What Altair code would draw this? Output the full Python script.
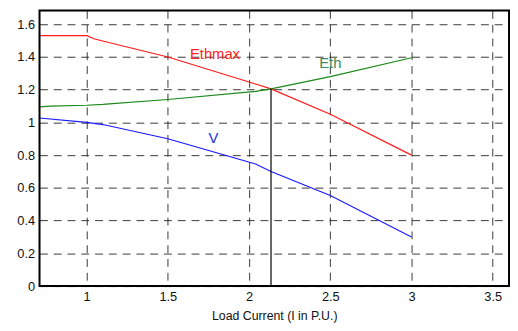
import altair as alt
import pandas as pd

ethmax_x = [0.71, 1.0, 1.05, 1.13, 1.5, 2.04, 2.135, 2.5, 3.0]
ethmax_y = [1.53, 1.53, 1.51, 1.49, 1.40, 1.235, 1.205, 1.05, 0.80]

eth_x = [0.71, 0.78, 1.0, 1.1, 1.5, 2.04, 2.135, 2.5, 3.0]
eth_y = [1.095, 1.10, 1.105, 1.11, 1.14, 1.19, 1.205, 1.28, 1.395]

v_x = [0.71, 1.0, 1.1, 1.5, 2.04, 2.135, 2.5, 3.0]
v_y = [1.027, 1.0, 0.987, 0.90, 0.746, 0.70, 0.553, 0.30]

label_text = ["Ethmax", "Eth", "V"]
label_x = [1.79, 2.5, 1.78]
label_y = [1.415, 1.365, 0.905]
label_color = ["#ff2020", "#3c8c5c", "#2030e0"]

cross_x = [2.135]
cross_y = [1.205]

x_ticks = [1, 1.5, 2, 2.5, 3, 3.5]
y_ticks = [0, 0.2, 0.4, 0.6, 0.8, 1, 1.2, 1.4, 1.6]

W, H = 477, 280

rows = []
for name, xs, ys in [("Ethmax", ethmax_x, ethmax_y), ("Eth", eth_x, eth_y), ("V", v_x, v_y)]:
    for i, (a, b) in enumerate(zip(xs, ys)):
        rows.append({"series": name, "x": a, "y": b, "order": i})
df = pd.DataFrame(rows)

xscale = alt.Scale(domain=[0.71, 3.6], nice=False, zero=False)
yscale = alt.Scale(domain=[0, 1.684], nice=False, zero=False)

common = dict(grid=True, gridDash=[8, 6], gridColor="#222", gridOpacity=0.9,
              ticks=False, domain=False, labelFont="Liberation Sans", labelFontSize=13,
              labelColor="#111", labelPadding=5, labelOverlap=False, labelExpr="datum.value")
xaxis = alt.Axis(values=x_ticks, title="Load Current (I in P.U.)",
                 titleFont="Liberation Sans", titleFontSize=12.5, titleFontWeight="normal",
                 titleColor="#111", titlePadding=6, **common)
yaxis = alt.Axis(values=y_ticks, title=None, **common)

X = lambda f: alt.X(f, scale=xscale, axis=xaxis)
Y = lambda f: alt.Y(f, scale=yscale, axis=yaxis)

lines = alt.Chart(df).mark_line(strokeWidth=1.2, clip=True).encode(
    x=X("x:Q"),
    y=Y("y:Q"),
    color=alt.Color("series:N", scale=alt.Scale(domain=["Ethmax", "Eth", "V"],
                                                range=["#ff1a1a", "#1a8a1a", "#1a1aff"]), legend=None),
    order="order:Q",
    detail="series:N",
)

vdf = pd.DataFrame({"x": cross_x, "y": [0], "y2": cross_y})
vline = alt.Chart(vdf).mark_rule(color="black", strokeWidth=1.2).encode(
    x=X("x:Q"), y=Y("y:Q"), y2="y2:Q")

ldf = pd.DataFrame({"t": label_text, "x": label_x, "y": label_y, "c": label_color})
labels = alt.Chart(ldf).mark_text(font="Liberation Sans", fontSize=15, align="center", baseline="middle").encode(
    x=X("x:Q"), y=Y("y:Q"), text="t:N",
    color=alt.Color("c:N", scale=None))

frame = alt.Chart(pd.DataFrame({"a": [0]})).mark_rect(fill=None, stroke="black", strokeWidth=2).encode(
    x=alt.value(0), x2=alt.value(W), y=alt.value(0), y2=alt.value(H))

chart = alt.layer(lines, vline, labels, frame).properties(
    width=W, height=H,
    autosize=alt.AutoSizeParams(type="none"),
    padding={"left": 32, "top": 0, "right": 1, "bottom": 35},
).configure_view(stroke=None).configure(background="white")

chart.save("out.html", embed_options={"renderer": "svg", "actions": False})
